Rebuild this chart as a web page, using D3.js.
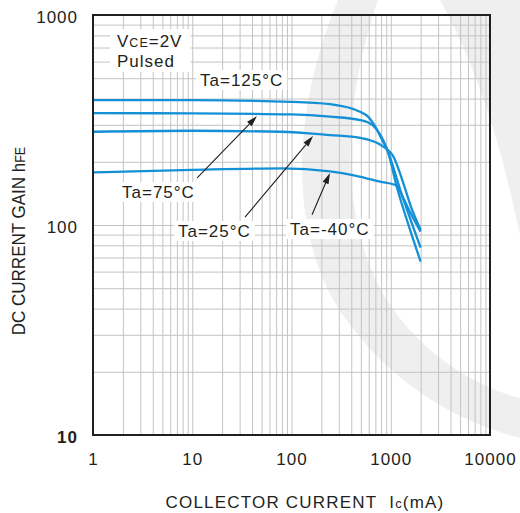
<!DOCTYPE html>
<html><head><meta charset="utf-8">
<script src="https://cdn.jsdelivr.net/npm/d3@7"></script>
<style>body{margin:0;background:#fff} text{font-family:"Liberation Sans",Arial,sans-serif;fill:#231f20}</style>
</head><body><svg id="c" width="520" height="513"></svg>
<script>
// ---- data ----
const xTickValues = [1, 10, 100, 1000, 10000];
const xTickLabels = ["1", "10", "100", "1000", "10000"];
const yTickValues = [10, 100, 1000];
const yTickLabels = ["10", "100", "1000"];
const seriesNames = ["Ta=125°C", "Ta=75°C", "Ta=25°C", "Ta=-40°C"];
const ic125  = [1, 10, 100, 244, 490, 590, 700, 820, 940, 1150, 1500, 2000];
const hfe125 = [393, 393, 386, 376, 346, 328, 293, 254, 222, 152, 101, 67];
const ic75   = [1, 10, 100, 244, 490, 660, 780, 900, 1290, 2000];
const hfe75  = [341, 340, 336, 328, 316, 298, 270, 235, 140, 78];
const ic25   = [1, 10, 77, 244, 490, 780, 940, 1050, 1300, 1600, 2000];
const hfe25  = [278, 281, 278, 268, 260, 242, 227, 214, 165, 122, 95];
const icM40  = [1, 10, 80, 244, 437, 780, 1150, 1300, 1600, 2000];
const hfeM40 = [178, 183, 186, 180, 172, 161, 154, 138, 113, 93];

const svg = d3.select("#c");
const W = 520, H = 513;
const x = d3.scaleLog().domain([1, 10000]).range([93, 490]);
const y = d3.scaleLog().domain([10, 1000]).range([435, 15]);
const plotH = 420, plotW = 397;

// ---- watermark ----
const wm = svg.append("g").attr("fill", "#efefef");
wm.append("path").attr("d", "M338,0 C292,110 286,235 345,318 C395,388 460,422 520,438 L520,398 C468,384 420,350 388,302 C340,228 340,110 378,0 Z");
wm.append("path").attr("d", "M440,0 L520,0 L520,235 C500,140 478,70 440,0 Z");

// ---- grid ----
const gridX = [], gridY = [];
[1, 10, 100, 1000].forEach(d => { for (let k = 1; k <= 9; k++) if (!(d === 1 && k === 1)) gridX.push(k * d); });
[10, 100].forEach(d => { for (let k = 1; k <= 9; k++) if (!(d === 10 && k === 1)) gridY.push(k * d); });
const gx = svg.append("g").attr("transform", "translate(0,435)")
  .call(d3.axisBottom(x).tickValues(gridX).tickSize(-plotH).tickFormat(""));
const gy = svg.append("g").attr("transform", "translate(93,0)")
  .call(d3.axisLeft(y).tickValues(gridY).tickSize(-plotW).tickFormat(""));
[gx, gy].forEach(g => { g.select(".domain").remove(); g.selectAll("line").attr("stroke", "#c3c3c3").attr("stroke-width", 1); });

// ---- tick labels ----
const ax = svg.append("g").attr("transform", "translate(0,435)")
  .call(d3.axisBottom(x).tickValues(xTickValues).tickSize(0).tickFormat((d, i) => xTickLabels[i]));
ax.select(".domain").remove();
ax.selectAll("text").attr("y", 30).attr("dy", 0).attr("font-size", 17).attr("letter-spacing", "1px")
  .attr("font-family", "Liberation Sans, Arial, sans-serif").attr("fill", "#231f20");
const ay = svg.append("g").attr("transform", "translate(93,0)")
  .call(d3.axisLeft(y).tickValues(yTickValues).tickSize(0).tickFormat((d, i) => yTickLabels[i]));
ay.select(".domain").remove();
ay.selectAll("text").attr("x", -15).attr("dy", 7).attr("font-size", 17).attr("letter-spacing", "1px")
  .attr("font-family", "Liberation Sans, Arial, sans-serif").attr("fill", "#231f20")
  .attr("font-weight", d => d === 10 ? "bold" : "normal");

// ---- label layer with white backgrounds ----
const bgLayer = svg.append("g");
const curveLayer = svg.append("g");
const annLayer = svg.append("g");
const textLayer = svg.append("g");

function label(ic, h, parts, pad) {
  const t = textLayer.append("text").attr("x", x(ic)).attr("y", y(h))
    .attr("font-size", 17).attr("letter-spacing", "1px");
  parts.forEach(p => t.append("tspan").text(p[0]).attr("font-size", p[1] || 17));
  const b = t.node().getBBox();
  bgLayer.append("rect").attr("x", b.x - pad[0]).attr("y", b.y - pad[1])
    .attr("width", b.width + pad[0] + pad[2]).attr("height", b.height + pad[1] + pad[3]).attr("fill", "#fff");
  return t;
}

// VCE / Pulsed box
const t1 = textLayer.append("text").attr("x", x(1.746)).attr("y", y(704)).attr("font-size", 17).attr("letter-spacing", "1px");
t1.append("tspan").text("V");
t1.append("tspan").text("CE").attr("font-size", 12.5);
t1.append("tspan").text("=2V");
const t2 = textLayer.append("text").attr("x", x(1.746)).attr("y", y(565)).attr("font-size", 17).attr("letter-spacing", "1px").text("Pulsed");
{
  const b1 = t1.node().getBBox(), b2 = t2.node().getBBox();
  const x0 = Math.min(b1.x, b2.x) - 7, y0 = b1.y - 3;
  const x1 = Math.max(b1.x + b1.width, b2.x + b2.width) + 8, y1 = b2.y + b2.height + 1;
  bgLayer.append("rect").attr("x", x0).attr("y", y0).attr("width", x1 - x0).attr("height", y1 - y0).attr("fill", "#fff");
}

label(11.97, 459, [[seriesNames[0]]], [4, 1, 4, 0]);
label(1.96, 134.5, [[seriesNames[1]]], [4, 1, 4, 0]);
label(7.18, 87.7, [[seriesNames[2]]], [4, 1, 4, 0]);
label(96.6, 89.6, [[seriesNames[3]]], [4, 1, 4, 0]);

// ---- curves ----
const series = [[ic125, hfe125], [ic75, hfe75], [ic25, hfe25], [icM40, hfeM40]];
const line = d3.line().x(d => x(d[0])).y(d => y(d[1])).curve(d3.curveMonotoneX);
series.forEach(s => {
  curveLayer.append("path").datum(s[0].map((v, i) => [v, s[1][i]]))
    .attr("d", line).attr("fill", "none").attr("stroke", "#1490d6").attr("stroke-width", 2.3)
    .attr("stroke-linejoin", "round");
});

// ---- arrows ----
const arrows = [
  [11.2, 167.5, 44.9, 330],
  [34, 109, 165, 265],
  [161, 112, 244, 177]
];
arrows.forEach(a => {
  const x0 = x(a[0]), y0 = y(a[1]), x1 = x(a[2]), y1 = y(a[3]);
  const ang = Math.atan2(y1 - y0, x1 - x0);
  const L = 11, Wd = 3.2;
  const bx = x1 - L * Math.cos(ang), by = y1 - L * Math.sin(ang);
  annLayer.append("line").attr("x1", x0).attr("y1", y0).attr("x2", bx).attr("y2", by)
    .attr("stroke", "#231f20").attr("stroke-width", 1.1);
  const px = -Math.sin(ang) * Wd, py = Math.cos(ang) * Wd;
  annLayer.append("path").attr("d", `M${x1},${y1} L${bx + px},${by + py} L${bx - px},${by - py} Z`).attr("fill", "#231f20");
});

// ---- frame ----
svg.append("rect").attr("x", 93).attr("y", 15).attr("width", plotW).attr("height", plotH)
  .attr("fill", "none").attr("stroke", "#231f20").attr("stroke-width", 2);

// ---- axis titles ----
const xt = svg.append("text").attr("x", 305).attr("y", 508).attr("text-anchor", "middle")
  .attr("font-size", 17).attr("letter-spacing", "1.2px");
xt.append("tspan").text("COLLECTOR CURRENT\u00a0\u00a0I");
xt.append("tspan").text("c").attr("font-size", 13);
xt.append("tspan").text("(mA)");
const yt = svg.append("text").attr("transform", "translate(25,241) scale(1.1,1) rotate(-90)")
  .attr("text-anchor", "middle").attr("font-size", 17);
yt.append("tspan").text("DC CURRENT GAIN h");
yt.append("tspan").text("FE").attr("font-size", 12.5);
</script></body></html>
